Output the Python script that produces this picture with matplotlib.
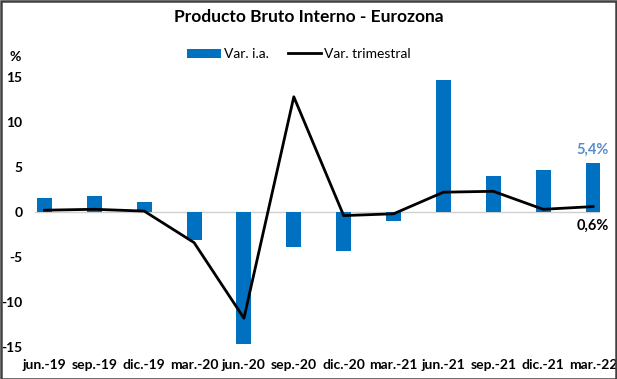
import matplotlib
matplotlib.use("Agg")
import matplotlib.pyplot as plt
from matplotlib.patches import Rectangle
from matplotlib.lines import Line2D
from matplotlib.patches import Patch
import numpy as np

categories = ["jun.-19", "sep.-19", "dic.-19", "mar.-20", "jun.-20", "sep.-20",
              "dic.-20", "mar.-21", "jun.-21", "sep.-21", "dic.-21", "mar.-22"]
var_ia = [1.6, 1.8, 1.1, -3.1, -14.7, -3.9, -4.3, -1.0, 14.7, 4.0, 4.7, 5.4]
var_trim = [0.2, 0.3, 0.1, -3.4, -11.8, 12.8, -0.4, -0.2, 2.2, 2.3, 0.3, 0.6]
yticks = [-15, -10, -5, 0, 5, 10, 15]

FONT = ["Lato", "DejaVu Sans"]
plt.rcParams['font.family'] = FONT

W, H = 617, 379
fig = plt.figure(figsize=(W / 100, H / 100), dpi=100)

# axes placement in pixels
ax_l, ax_r = 35, 600
ax_top, ax_bot = 68, 356
ax = fig.add_axes([ax_l / W, 1 - ax_bot / H, (ax_r - ax_l) / W, (ax_bot - ax_top) / H])

x = np.arange(len(categories))
ax.bar(x, var_ia, width=0.3, color="#0070C0", zorder=2)
ax.plot(x, var_trim, color="black", lw=2.0, zorder=3)
ax.axhline(0, color="#D0D0D0", lw=1, zorder=1)

ax.set_xlim(-0.19, 11.14)
ax.set_ylim(-16, 16)
ax.set_yticks(yticks)
ax.set_yticklabels([str(v) for v in yticks], fontsize=10, fontweight="bold")
ax.set_xticks(x)
ax.set_xticklabels(categories, fontsize=10, fontweight="bold")
ax.tick_params(axis="both", length=0)
ax.tick_params(axis="y", pad=9)
ax.tick_params(axis="x", pad=2)
for s in ax.spines.values():
    s.set_visible(False)
ax.patch.set_alpha(0)

# annotations for last values
ax.annotate(f"{var_ia[-1]:.1f}%".replace(".", ","), xy=(x[-1], var_ia[-1]),
            xytext=(0, 5), textcoords="offset points", ha="center", va="bottom",
            color="#5B8DC9", fontsize=10.5, fontweight="bold")
ax.annotate(f"{var_trim[-1]:.1f}%".replace(".", ","), xy=(x[-1], var_trim[-1]),
            xytext=(0, -9), textcoords="offset points", ha="center", va="top",
            color="black", fontsize=10.5, fontweight="bold")

fig.text(309 / W, 1 - 17 / H, "Producto Bruto Interno - Eurozona", ha="center", va="center",
         fontsize=12.5, fontweight="bold")
fig.text(15 / W, 1 - 57 / H, "%", ha="center", va="center", fontsize=10, fontweight="bold")

handles = [Patch(facecolor="#0070C0", edgecolor="none"),
           Line2D([0], [0], color="black", lw=2)]
fig.legend(handles, ["Var. i.a.", "Var. trimestral"], loc="center",
           bbox_to_anchor=(299 / W, 1 - 54 / H), ncol=2, frameon=False,
           fontsize=10, handlelength=2.4, handleheight=0.6, handletextpad=0.2,
           columnspacing=1.4)

fig.patches.append(Rectangle((0.5 / W, 0.5 / H), 1 - 1.5 / W, 1 - 1.5 / H,
                             transform=fig.transFigure, fill=False,
                             edgecolor="#404040", lw=1.8))

fig.savefig("out.png", dpi=100, facecolor="white")
